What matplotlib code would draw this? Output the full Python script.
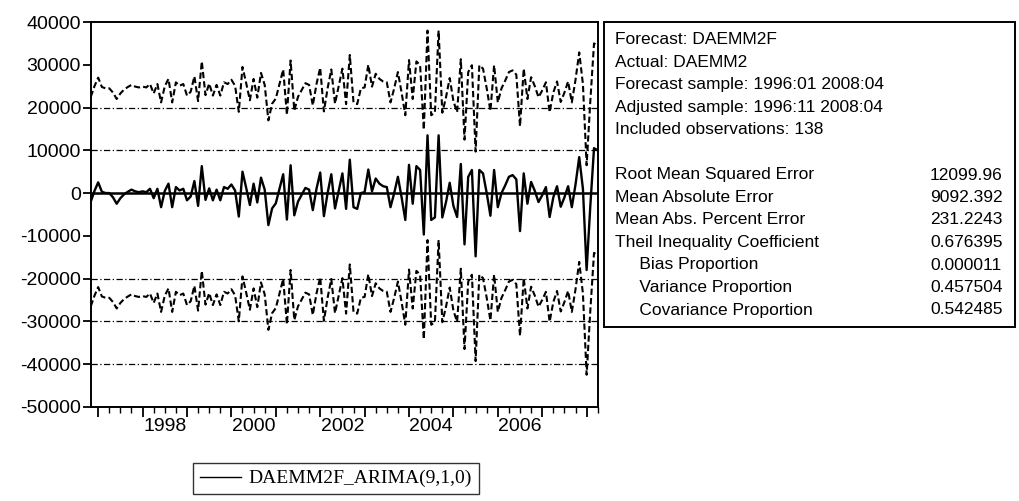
import numpy as np
import matplotlib
matplotlib.use("Agg")
from matplotlib import pyplot as plt
from matplotlib.patches import Rectangle

plt.rcParams['axes.unicode_minus'] = False
plt.rcParams['font.family'] = ['Liberation Sans', 'DejaVu Sans']

# monthly static forecast, 1996:11 .. 2008:04 (138 obs)
forecast = [
    -2000, 500, 2500, 300, 0, 0, -1000, -2500, -1200, -300,
    300, 800, 400, 200, 400, 200, 1000, -1200, 1000, -3300,
    500, 2200, -3300, 1400, 600, 1000, -1700, -800, 2800, -3000,
    6300, -1600, 1100, -1700, 800, -1700, 1400, 1000, 2000, 600,
    -5500, 5000, 1200, -2800, 2200, -2200, 3600, 800, -7500, -3600,
    -2400, 1000, 4400, -6200, 6500, -5200, -2000, -400, 1200, 800,
    -4000, 1000, 4800, -5400, 0, 4400, -3600, 500, 4600, -3700,
    7800, -3300, -3700, 0, 200, 5500, 400, 3400, 2200, 1600,
    1400, -3300, 0, 3800, -1000, -6300, 6600, -2500, 6300, 5400,
    -9700, 13500, -6300, -5700, 13500, -5700, -2100, 2400, -3000, -5600,
    6800, -12000, 3800, 5400, -14800, 5400, 4600, 0, -5300, 5400,
    -3300, 0, 1800, 3800, 4200, 3200, -8900, 4600, -2500, 2600,
    500, -2100, -500, 1400, -5600, -1000, 1600, -3200, -1000, 1600,
    -3300, 2000, 8400, 1000, -18000, -3000, 10500, 10000,
]
two_se = 24500          # +/- 2 S.E. band half width
ref_levels = [20000, 10000, -20000, -30000, -40000]
y_ticks = [40000, 30000, 20000, 10000, 0, -10000, -20000, -30000, -40000, -50000]
year_labels = [1998, 2000, 2002, 2004, 2006]

stats_head = [
    "Forecast: DAEMM2F",
    "Actual: DAEMM2",
    "Forecast sample: 1996:01 2008:04",
    "Adjusted sample: 1996:11 2008:04",
    "Included observations: 138",
]
stats_names = [
    "Root Mean Squared Error",
    "Mean Absolute Error",
    "Mean Abs. Percent Error",
    "Theil Inequality Coefficient",
    "     Bias Proportion",
    "     Variance Proportion",
    "     Covariance Proportion",
]
stats_values = ["12099.96", "9092.392", "231.2243", "0.676395",
                "0.000011", "0.457504", "0.542485"]

f = np.array(forecast, dtype=float)
t = 1996 + 10 / 12 + np.arange(len(f)) / 12

fig = plt.figure(figsize=(10.2, 5.01), dpi=100)
ax = fig.add_axes([0.089, 0.188, 0.497, 0.768])

for lev in ref_levels:
    ax.axhline(lev, color='black', lw=0.9, ls=(0, (5, 2, 1, 2)))
ax.axhline(0, color='black', lw=1.8)

ax.plot(t, f + two_se, color='black', lw=1.5, ls=(0, (3, 1.5)))
ax.plot(t, f - two_se, color='black', lw=1.5, ls=(0, (3, 1.5)))
line, = ax.plot(t, f, color='black', lw=1.7)

ax.set_xlim(t[0], t[-1])
ax.set_ylim(-50000, 40000)
ax.set_yticks(y_ticks)
ax.set_yticklabels([str(v) for v in y_ticks])

years = np.arange(1997, 2009)
ax.set_xticks(years)
ax.set_xticklabels([])
quarters = [y + q / 12 for y in range(1996, 2009) for q in (3, 6, 9)]
quarters = [q for q in quarters if t[0] <= q <= t[-1]]
ax.set_xticks(quarters, minor=True)
ax.tick_params(axis='x', which='major', length=7, width=1.3, direction='out')
ax.tick_params(axis='x', which='minor', length=4, width=1.0, direction='out')
ax.tick_params(axis='y', length=6, width=1.3, labelsize=14, pad=1)
for yr in year_labels:
    ax.text(yr + 0.5, -0.028, str(yr), transform=ax.get_xaxis_transform(),
            ha='center', va='top', fontsize=14)
for s in ax.spines.values():
    s.set_linewidth(1.4)

# legend below the plot
leg = fig.legend([line], ["DAEMM2F_ARIMA(9,1,0)"], loc='upper left',
                 bbox_to_anchor=(193 / 1020, 1 - 463 / 501), frameon=True,
                 fancybox=False, edgecolor='black', handlelength=2.1,
                 handletextpad=0.4, borderpad=0.35, borderaxespad=0,
                 prop={'family': 'Liberation Serif', 'size': 14})
leg.get_frame().set_linewidth(1.0)
leg.get_lines()[0].set_linewidth(1.0)

# statistics box
W, H = 1020, 501
fig.patches.append(Rectangle((604 / W, 1 - 327 / H), (1015 - 604) / W, (327 - 22) / H,
                             transform=fig.transFigure, fill=False,
                             edgecolor='black', lw=1.4))
y0 = 40
for i, s in enumerate(stats_head):
    fig.text(615 / W, 1 - (y0 + i * 22.5) / H, s, fontsize=12.5, va='center')
y1 = 175
for i, (s, v) in enumerate(zip(stats_names, stats_values)):
    fig.text(615 / W, 1 - (y1 + i * 22.5) / H, s, fontsize=12.5, va='center')
    fig.text(930 / W, 1 - (y1 + i * 22.5) / H, v, fontsize=12.5, va='center')

fig.savefig("out.png", dpi=100)
